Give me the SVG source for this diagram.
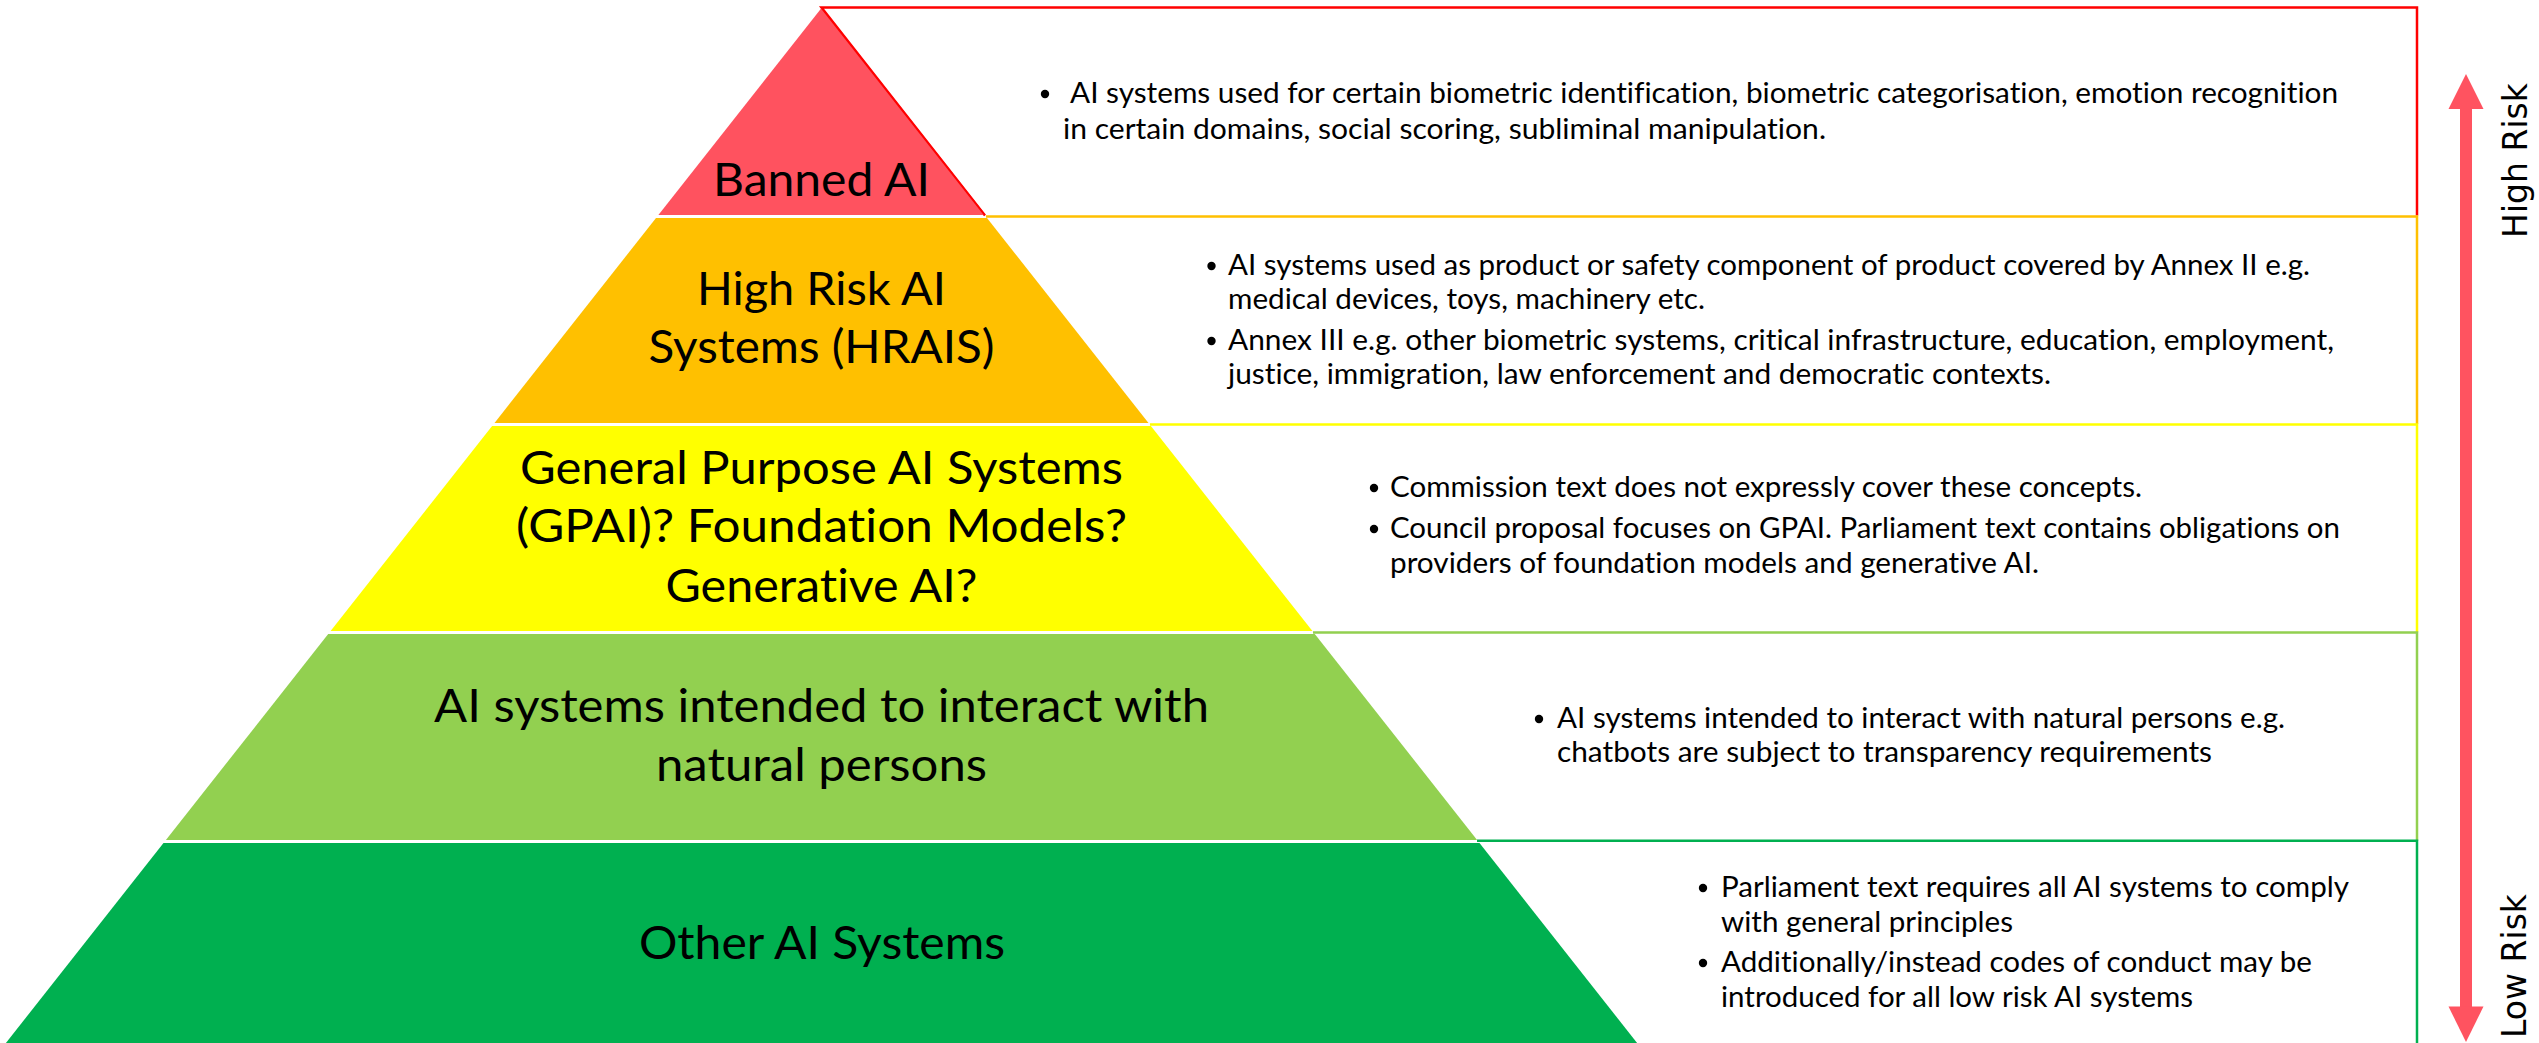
<svg xmlns="http://www.w3.org/2000/svg" width="2539" height="1043" viewBox="0 0 2539 1043">
  <style>
    .lbl { font-family: Lato, "Liberation Sans", sans-serif; font-size: 46px; fill: #000; text-anchor: middle; font-variant-ligatures: none; }
    .txt { font-family: Lato, "Liberation Sans", sans-serif; font-size: 28px; fill: #000; font-variant-ligatures: none; }
    .side { font-family: "DejaVu Sans", Verdana, sans-serif; font-size: 33px; fill: #000; text-anchor: middle; }
    .dot { fill: #000; }
    .edge { fill: none; stroke-width: 2.5; }
    .arrow { fill: #FF5360; }
  </style>
  <rect width="2539" height="1043" fill="#ffffff"/>

  <!-- description box outlines (top + right edge per tier) -->
  <g id="boxes">
    <path class="edge" stroke="#FF0000" d="M985 215.5 L821.5 7.5 H2417 V215.5"/>
    <path class="edge" stroke="#FFC000" d="M986 216.5 H2417 V424"/>
    <path class="edge" stroke="#FFFF00" d="M1150 424.5 H2417 V632.5"/>
    <path class="edge" stroke="#92D050" d="M1313 632.5 H2417 V840.7"/>
    <path class="edge" stroke="#00B050" d="M1477 840.7 H2417 V1050"/>
  </g>

  <!-- pyramid tiers -->
  <g id="tier-banned">
    <polygon points="821.5,8 984.6,215 658.4,215" fill="#FF525F"/>
    <line x1="821.5" y1="8" x2="984.6" y2="215" stroke="#FF0000" stroke-width="1.5"/>
    <text class="lbl" x="821.5" y="196" textLength="217" lengthAdjust="spacingAndGlyphs">Banned AI</text>
    <circle class="dot" cx="1045" cy="94" r="4.2"/>
    <text class="txt" x="1070" y="103" textLength="1268" lengthAdjust="spacingAndGlyphs">AI systems used for certain biometric identification, biometric categorisation, emotion recognition</text>
    <text class="txt" x="1063" y="139" textLength="763" lengthAdjust="spacingAndGlyphs">in certain domains, social scoring, subliminal manipulation.</text>
  </g>

  <g id="tier-high">
    <polygon points="656,218 987,218 1148.5,423 494.5,423" fill="#FFC000"/>
    <text class="lbl" x="821.5" y="305" textLength="249" lengthAdjust="spacingAndGlyphs">High Risk AI</text>
    <text class="lbl" x="821.5" y="363" textLength="346" lengthAdjust="spacingAndGlyphs">Systems (HRAIS)</text>
    <circle class="dot" cx="1211.5" cy="266" r="4.2"/>
    <text class="txt" x="1228" y="275" textLength="1082" lengthAdjust="spacingAndGlyphs">AI systems used as product or safety component of product covered by Annex II e.g.</text>
    <text class="txt" x="1228" y="309" textLength="477" lengthAdjust="spacingAndGlyphs">medical devices, toys, machinery etc.</text>
    <circle class="dot" cx="1211.5" cy="341" r="4.2"/>
    <text class="txt" x="1228" y="350" textLength="1106" lengthAdjust="spacingAndGlyphs">Annex III e.g. other biometric systems, critical infrastructure, education, employment,</text>
    <text class="txt" x="1228" y="384" textLength="823" lengthAdjust="spacingAndGlyphs">justice, immigration, law enforcement and democratic contexts.</text>
  </g>

  <g id="tier-gpai">
    <polygon points="492.1,426 1150.9,426 1312.4,631 330.6,631" fill="#FFFF00"/>
    <text class="lbl" x="821.5" y="484" textLength="603" lengthAdjust="spacingAndGlyphs">General Purpose AI Systems</text>
    <text class="lbl" x="821.5" y="542" textLength="611" lengthAdjust="spacingAndGlyphs">(GPAI)? Foundation Models?</text>
    <text class="lbl" x="821.5" y="602" textLength="312" lengthAdjust="spacingAndGlyphs">Generative AI?</text>
    <circle class="dot" cx="1374" cy="488" r="4.2"/>
    <text class="txt" x="1390" y="497" textLength="752" lengthAdjust="spacingAndGlyphs">Commission text does not expressly cover these concepts.</text>
    <circle class="dot" cx="1374" cy="529" r="4.2"/>
    <text class="txt" x="1390" y="538" textLength="950" lengthAdjust="spacingAndGlyphs">Council proposal focuses on GPAI. Parliament text contains obligations on</text>
    <text class="txt" x="1390" y="573" textLength="649" lengthAdjust="spacingAndGlyphs">providers of foundation models and generative AI.</text>
  </g>

  <g id="tier-interact">
    <polygon points="328.2,634 1314.8,634 1477.1,840 165.9,840" fill="#92D050"/>
    <text class="lbl" x="821.5" y="722" textLength="775" lengthAdjust="spacingAndGlyphs">AI systems intended to interact with</text>
    <text class="lbl" x="821.5" y="781" textLength="331" lengthAdjust="spacingAndGlyphs">natural persons</text>
    <circle class="dot" cx="1539" cy="719" r="4.2"/>
    <text class="txt" x="1557" y="728" textLength="728" lengthAdjust="spacingAndGlyphs">AI systems intended to interact with natural persons e.g.</text>
    <text class="txt" x="1557" y="762" textLength="655" lengthAdjust="spacingAndGlyphs">chatbots are subject to transparency requirements</text>
  </g>

  <g id="tier-other">
    <polygon points="163.5,843 1479.5,843 1637.1,1043 5.9,1043" fill="#00B050"/>
    <text class="lbl" x="822" y="959" textLength="366" lengthAdjust="spacingAndGlyphs">Other AI Systems</text>
    <circle class="dot" cx="1703" cy="888" r="4.2"/>
    <text class="txt" x="1721" y="897" textLength="628" lengthAdjust="spacingAndGlyphs">Parliament text requires all AI systems to comply</text>
    <text class="txt" x="1721" y="932" textLength="292" lengthAdjust="spacingAndGlyphs">with general principles</text>
    <circle class="dot" cx="1703" cy="963" r="4.2"/>
    <text class="txt" x="1721" y="972" textLength="591" lengthAdjust="spacingAndGlyphs">Additionally/instead codes of conduct may be</text>
    <text class="txt" x="1721" y="1007" textLength="472" lengthAdjust="spacingAndGlyphs">introduced for all low risk AI systems</text>
  </g>

  <!-- risk scale: double-headed arrow with end labels -->
  <g id="connectors">
    <rect class="arrow" x="2460" y="108" width="12" height="900"/>
    <polygon class="arrow" points="2466,74 2483.5,109 2448.5,109"/>
    <polygon class="arrow" points="2448.5,1006.5 2483.5,1006.5 2466,1042"/>
  </g>
  <g id="scale-labels">
    <text class="side" transform="translate(2527,160.5) rotate(-90)">High Risk</text>
    <text class="side" transform="translate(2526,966) rotate(-90)">Low Risk</text>
  </g>
</svg>
